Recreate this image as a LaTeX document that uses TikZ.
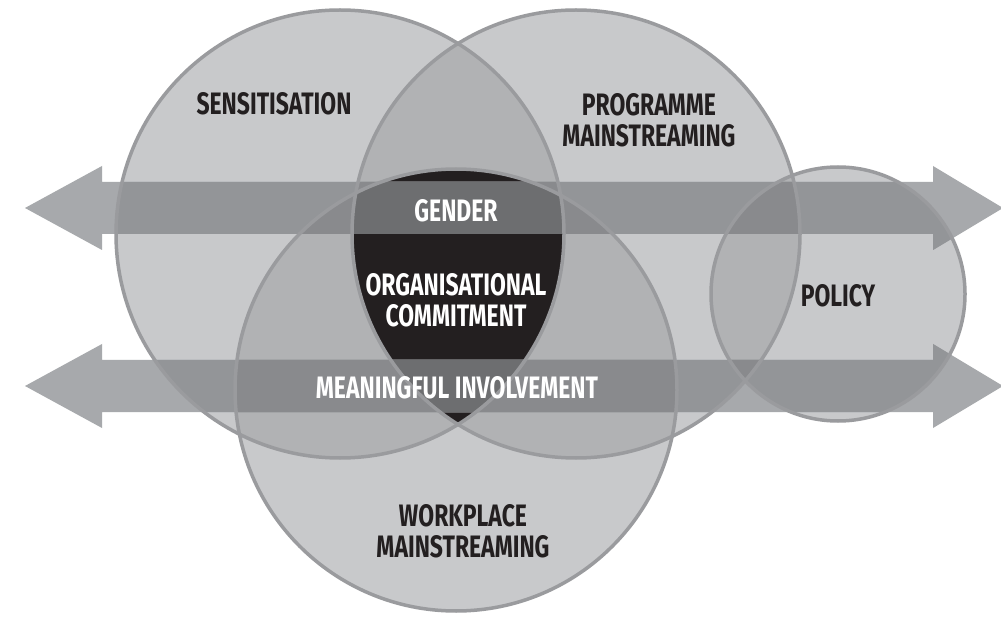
\documentclass[tikz,border=0pt]{standalone}
\usepackage{fontspec}
\newfontfamily\labfont[FakeStretch=0.74]{Fira Sans}
\definecolor{circ}{HTML}{C8C9CB}
\definecolor{lap}{HTML}{B1B2B4}
\definecolor{blk}{HTML}{231F20}
\definecolor{arrw}{HTML}{A7A9AC}
\definecolor{arrc}{HTML}{939598}
\definecolor{arrl}{HTML}{898A8D}
\definecolor{arrb}{HTML}{6D6E70}
\definecolor{ring}{HTML}{9A9B9E}
\begin{document}
\begin{tikzpicture}[x=1pt,y=-1pt,
  lab/.style={font=\labfont\bfseries\fontsize{31}{31}\selectfont, text=blk, align=center, inner sep=0pt},
  labw/.style={lab, text=white},
  ringline/.style={draw=ring, line width=3.5pt}]
\fill[white] (0,0) rectangle (1001,617);
\useasboundingbox (0,0) rectangle (1001,617);
\def\cA{(340,234) circle (224)}
\def\cB{(576,234) circle (224)}
\def\cC{(456,390) circle (221)}
\def\cD{(838,294) circle (127)}
\def\arrows{(25,208) -- (102,166) -- (102,182) -- (933,182) -- (933,166) -- (1003,208) -- (933,250) -- (933,234) -- (102,234) -- (102,250) -- cycle
 (25,386) -- (102,344) -- (102,360) -- (933,360) -- (933,344) -- (1003,386) -- (933,428) -- (933,412) -- (102,412) -- (102,428) -- cycle}
% circles
\fill[circ] \cA; \fill[circ] \cB; \fill[circ] \cC; \fill[circ] \cD;
% pairwise overlaps
\begin{scope}\clip \cA; \fill[lap] \cB; \fill[lap] \cC; \end{scope}
\begin{scope}\clip \cB; \fill[lap] \cC; \fill[lap] \cD; \end{scope}
% triple overlap
\begin{scope}\clip \cA; \clip \cB; \fill[blk] \cC; \end{scope}
% arrows
\fill[arrw] \arrows;
\begin{scope}
  \clip \arrows;
  \fill[arrc] \cA; \fill[arrc] \cB; \fill[arrc] \cC; \fill[arrc] \cD;
  \begin{scope}\clip \cA; \fill[arrl] \cB; \fill[arrl] \cC; \end{scope}
  \begin{scope}\clip \cB; \fill[arrl] \cC; \fill[arrl] \cD; \end{scope}
  \begin{scope}\clip \cA; \clip \cB; \fill[arrb] \cC; \end{scope}
\end{scope}
% outlines
\draw[ringline] \cA; \draw[ringline] \cB; \draw[ringline] \cC; \draw[ringline] \cD;
% labels
\node[lab] (sens) at (274,104) {SENSITISATION};
\node[lab] (prog) at (649,120) {PROGRAMME\\[0pt]MAINSTREAMING};
\node[labw] (gender) at (456,211) {GENDER};
\node[labw] (org) at (456,300) {ORGANISATIONAL\\COMMITMENT};
\node[lab] (policy) at (838,296) {POLICY};
\node[labw] (mi) at (457,388) {MEANINGFUL INVOLVEMENT};
\node[lab] (work) at (463,531) {WORKPLACE\\MAINSTREAMING};
\end{tikzpicture}
\end{document}
